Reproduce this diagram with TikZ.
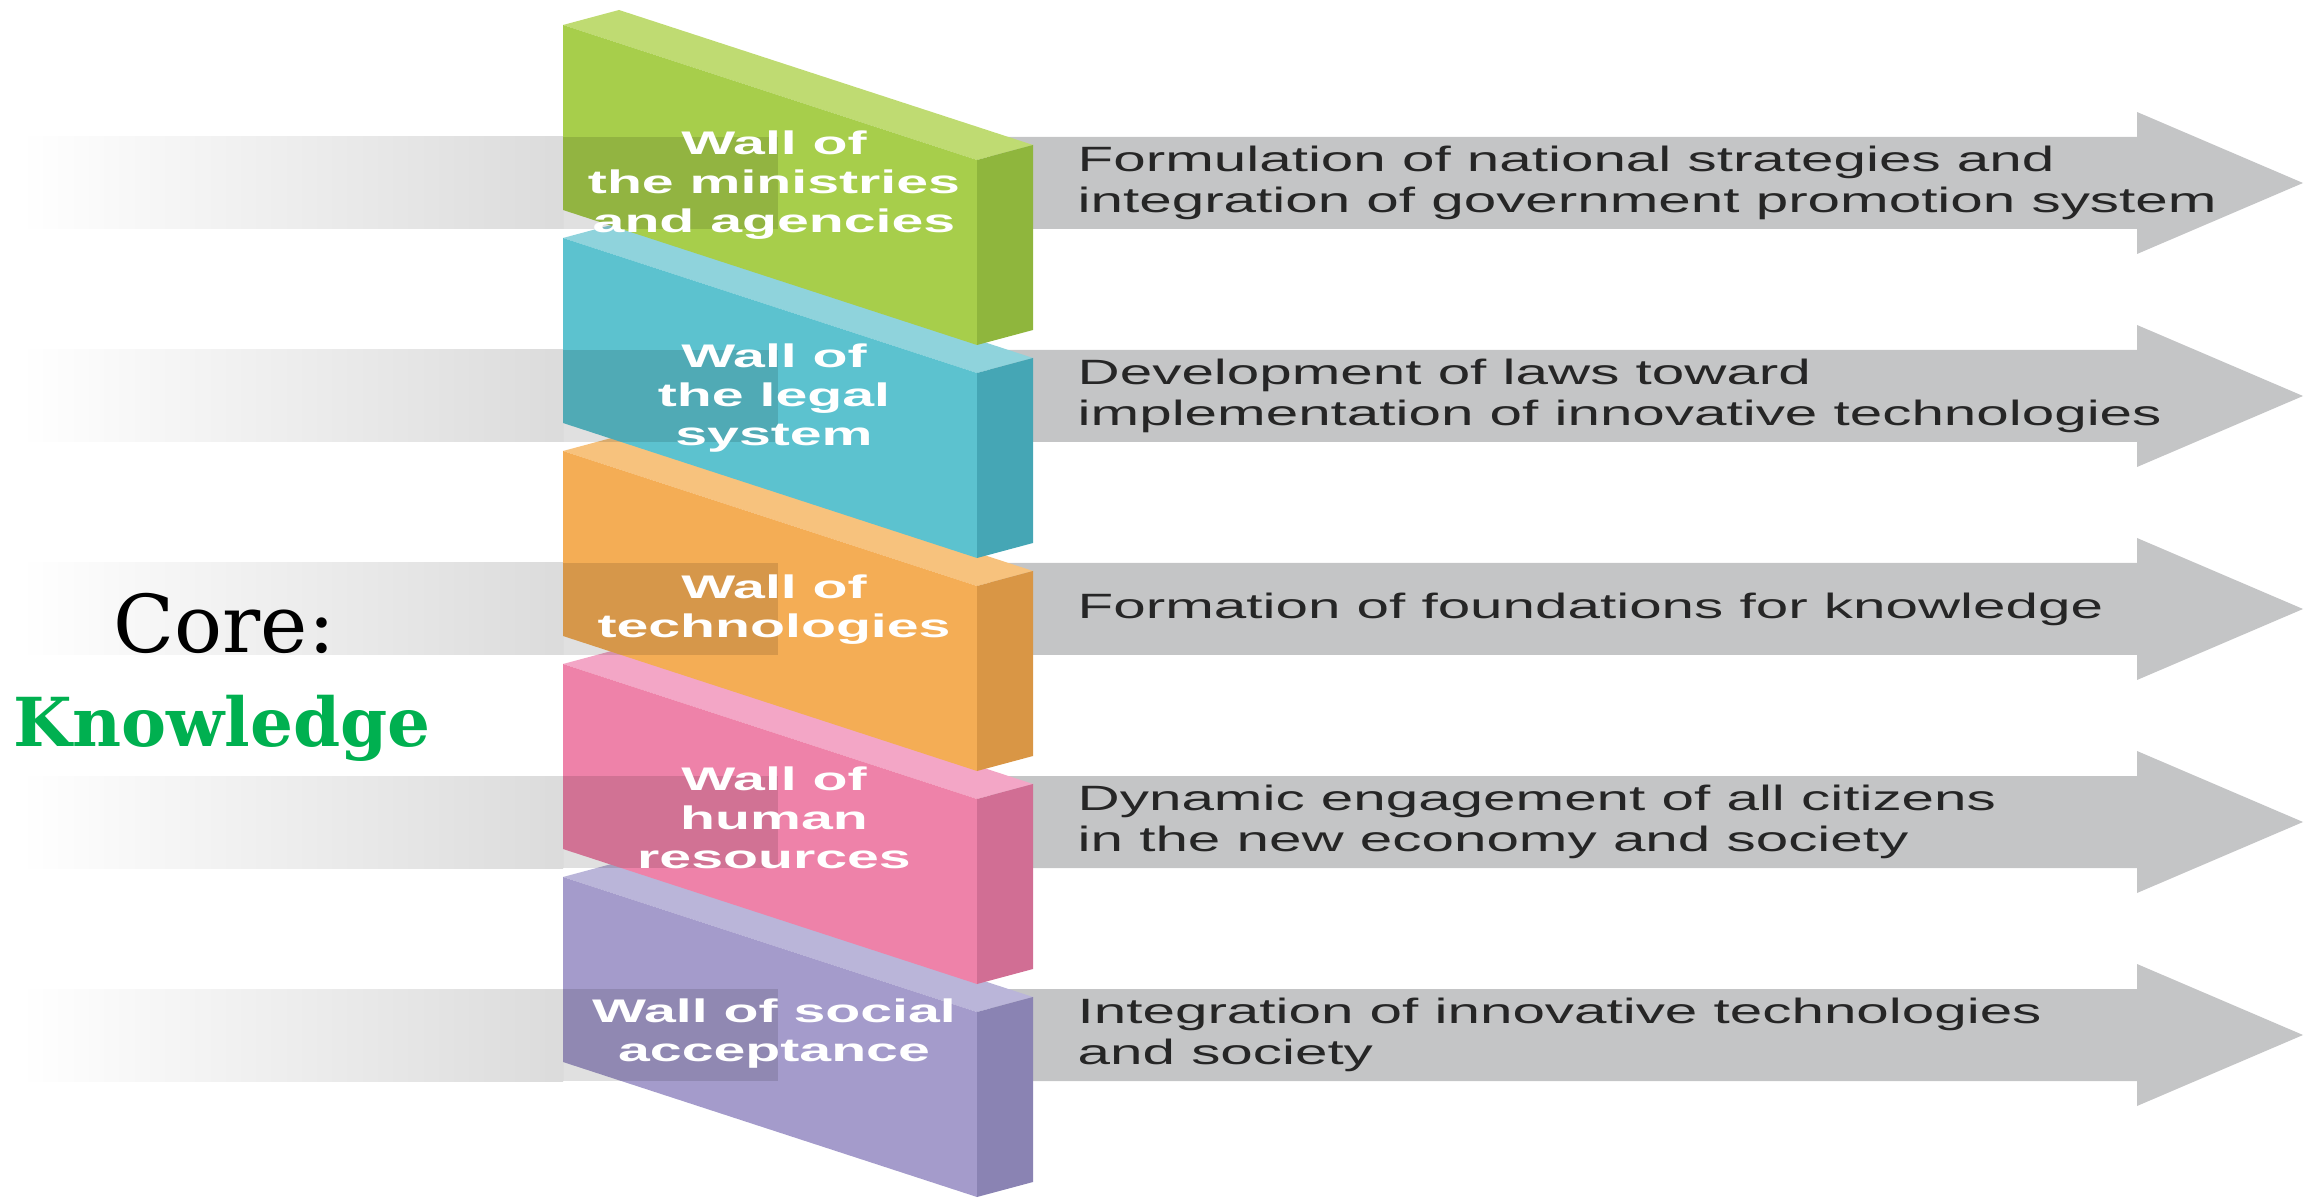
\documentclass[tikz,border=0pt]{standalone}
\usepackage{fontspec}
\setmainfont{Liberation Sans}
\newfontfamily\corefont{DejaVu Serif}
\usepackage{graphicx}
\usetikzlibrary{positioning}

\definecolor{greenF}{HTML}{A7CE4B}
\definecolor{greenT}{HTML}{BFDB72}
\definecolor{greenS}{HTML}{8FB63D}
\definecolor{blueF}{HTML}{5CC2CF}
\definecolor{blueT}{HTML}{8FD3DC}
\definecolor{blueS}{HTML}{45A6B5}
\definecolor{orangeF}{HTML}{F4AD55}
\definecolor{orangeT}{HTML}{F7C27D}
\definecolor{orangeS}{HTML}{D99645}
\definecolor{pinkF}{HTML}{EE82A9}
\definecolor{pinkT}{HTML}{F3A6C6}
\definecolor{pinkS}{HTML}{D16E94}
\definecolor{purpleF}{HTML}{A49BCB}
\definecolor{purpleT}{HTML}{BAB5D9}
\definecolor{purpleS}{HTML}{8A83B3}
\definecolor{arrowgray}{HTML}{C4C5C6}
\definecolor{knowgreen}{HTML}{00B050}

\newcommand{\walltext}[1]{\scalebox{1.75}[1]{\begin{tabular}{@{}c@{}}#1\end{tabular}}}
\newcommand{\goaltext}[1]{\scalebox{1.66}[1]{\begin{tabular}{@{}l@{}}#1\end{tabular}}}

\begin{document}
\begin{tikzpicture}[
x=0.01cm, y=-0.01cm,
band/.style={left color=white, right color=black!14},
veil/.style={fill=black, opacity=0.12},
arrowbody/.style={fill=arrowgray},
walllabel/.style={text=white, inner sep=0pt, font=\fontsize{9.3}{11.1}\selectfont\bfseries},
goallabel/.style={anchor=west, inner sep=0pt, text=black!85, font=\fontsize{10}{11.4}\selectfont}]

\useasboundingbox (0,0) rectangle (2316,1198);

\shade[band] (20,137) rectangle (563,229);
\shade[band] (20,350) rectangle (563,442);
\shade[band] (20,563) rectangle (563,655);
\shade[band] (20,776) rectangle (563,868);
\shade[band] (20,989) rectangle (563,1081);

\fill[arrowbody] (990,137) -- (2137,137) -- (2137,112) -- (2303,183) -- (2137,254) -- (2137,229) -- (990,229) -- cycle;
\fill[arrowbody] (990,350) -- (2137,350) -- (2137,325) -- (2303,396) -- (2137,467) -- (2137,442) -- (990,442) -- cycle;
\fill[arrowbody] (990,563) -- (2137,563) -- (2137,538) -- (2303,609) -- (2137,680) -- (2137,655) -- (990,655) -- cycle;
\fill[arrowbody] (990,776) -- (2137,776) -- (2137,751) -- (2303,822) -- (2137,893) -- (2137,868) -- (990,868) -- cycle;
\fill[arrowbody] (990,989) -- (2137,989) -- (2137,964) -- (2303,1035) -- (2137,1106) -- (2137,1081) -- (990,1081) -- cycle;

\fill[purpleT] (563,877) -- ++(56,-15) -- ++(414,135) -- ++(-56,15) -- cycle;
\fill[purpleF] (563,877) -- ++(414,135) -- ++(0,185) -- ++(-414,-135) -- cycle;
\fill[purpleS] (977,1012) -- ++(56,-15) -- ++(0,185) -- ++(-56,15) -- cycle;

\fill[pinkT] (563,664) -- ++(56,-15) -- ++(414,135) -- ++(-56,15) -- cycle;
\fill[pinkF] (563,664) -- ++(414,135) -- ++(0,185) -- ++(-414,-135) -- cycle;
\fill[pinkS] (977,799) -- ++(56,-15) -- ++(0,185) -- ++(-56,15) -- cycle;

\fill[orangeT] (563,451) -- ++(56,-15) -- ++(414,135) -- ++(-56,15) -- cycle;
\fill[orangeF] (563,451) -- ++(414,135) -- ++(0,185) -- ++(-414,-135) -- cycle;
\fill[orangeS] (977,586) -- ++(56,-15) -- ++(0,185) -- ++(-56,15) -- cycle;

\fill[blueT] (563,238) -- ++(56,-15) -- ++(414,135) -- ++(-56,15) -- cycle;
\fill[blueF] (563,238) -- ++(414,135) -- ++(0,185) -- ++(-414,-135) -- cycle;
\fill[blueS] (977,373) -- ++(56,-15) -- ++(0,185) -- ++(-56,15) -- cycle;

\fill[greenT] (563,25) -- ++(56,-15) -- ++(414,135) -- ++(-56,15) -- cycle;
\fill[greenF] (563,25) -- ++(414,135) -- ++(0,185) -- ++(-414,-135) -- cycle;
\fill[greenS] (977,160) -- ++(56,-15) -- ++(0,185) -- ++(-56,15) -- cycle;

\fill[veil] (563,137) rectangle (778,229);
\fill[veil] (563,350) rectangle (778,442);
\fill[veil] (563,563) rectangle (778,655);
\fill[veil] (563,776) rectangle (778,868);
\fill[veil] (563,989) rectangle (778,1081);

\node[walllabel] (wall1) at (774,186) {\walltext{Wall of\\the ministries\\and agencies}};
\node[walllabel] (wall2) at (774,399) {\walltext{Wall of\\the legal\\system}};
\node[walllabel] (wall3) at (774,610) {\walltext{Wall of\\technologies}};
\node[walllabel] (wall4) at (774,822) {\walltext{Wall of\\human\\resources}};
\node[walllabel] (wall5) at (774,1034) {\walltext{Wall of social\\acceptance}};

\node[goallabel] (goal1) at (1077,184) {\goaltext{Formulation of national strategies and\\integration of government promotion system}};
\node[goallabel] (goal2) at (1077,397) {\goaltext{Development of laws toward\\implementation of innovative technologies}};
\node[goallabel] (goal3) at (1077,610) {\goaltext{Formation of foundations for knowledge}};
\node[goallabel] (goal4) at (1077,823) {\goaltext{Dynamic engagement of all citizens\\in the new economy and society}};
\node[goallabel] (goal5) at (1077,1036) {\goaltext{Integration of innovative technologies\\and society}};

\node[anchor=base west, inner sep=0pt, font=\corefont\fontsize{22.7}{27}\selectfont] (core) at (113,653) {Core:};
\node[anchor=base west, inner sep=0pt, text=knowgreen, font=\corefont\bfseries\fontsize{19.2}{23}\selectfont] (knowledge) at (13,747) {Knowledge};
\end{tikzpicture}
\end{document}
